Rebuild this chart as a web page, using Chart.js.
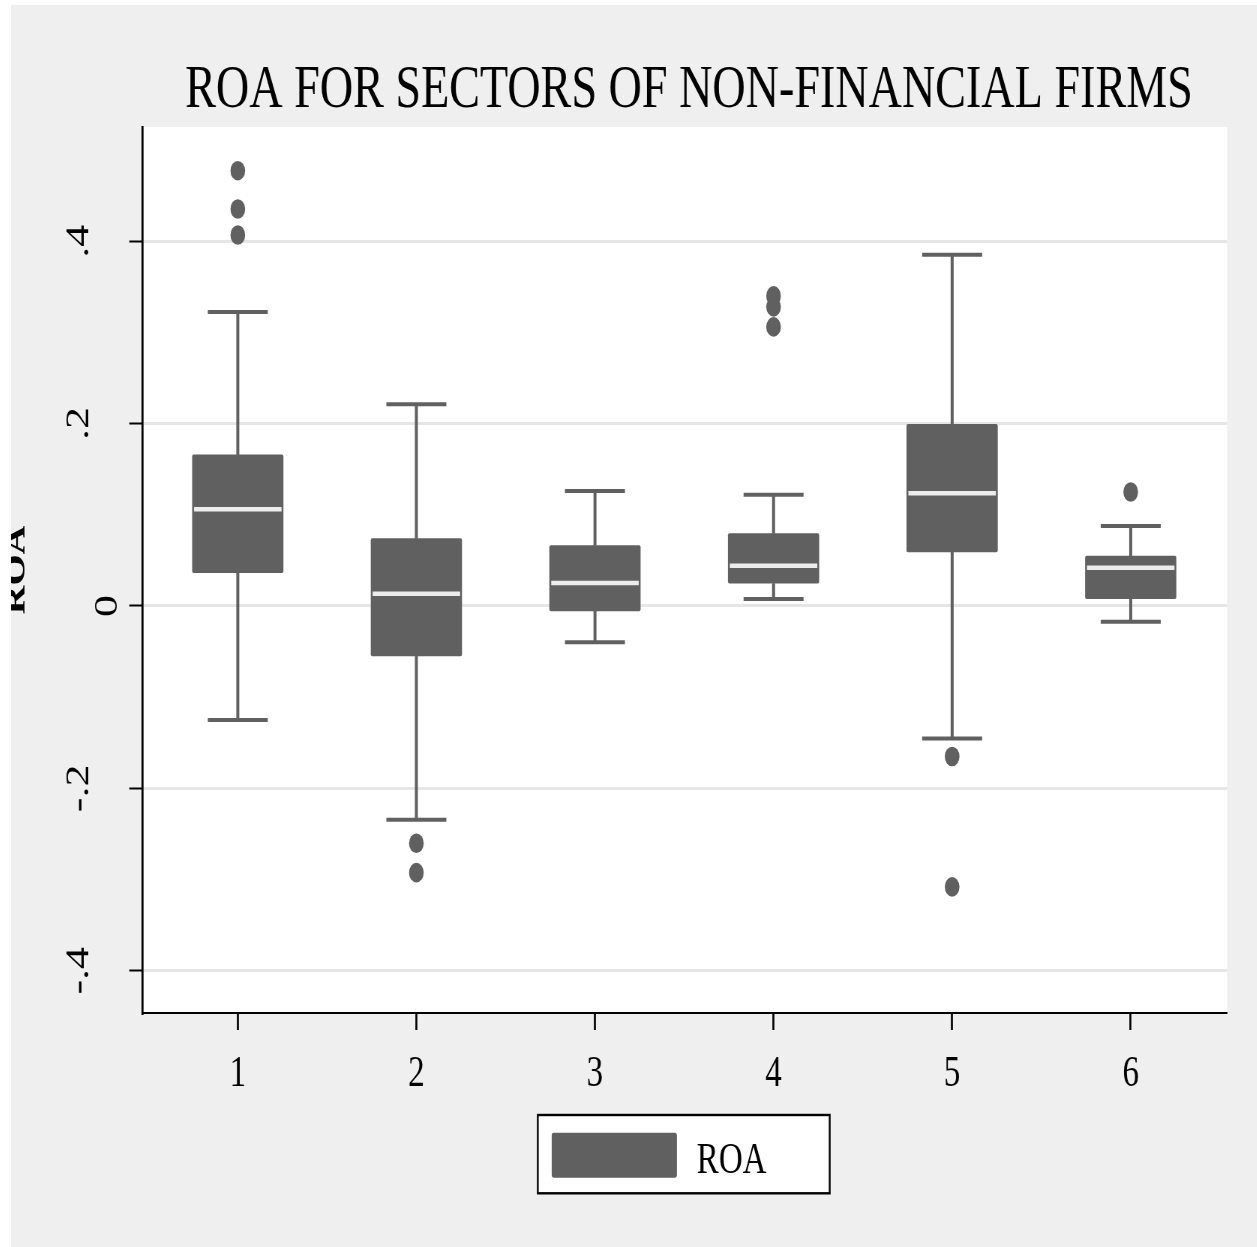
<!DOCTYPE html>
<html>
<head>
<meta charset="utf-8">
<title>ROA for sectors of non-financial firms</title>
<script src="https://cdn.jsdelivr.net/npm/chart.js@4.4.1/dist/chart.umd.min.js"></script>
<style>
  html, body { margin: 0; padding: 0; background: #ffffff; overflow: hidden; }
  #frame { position: absolute; left: 11px; top: 5px; width: 1246px; height: 1242px; background: #efefef; overflow: hidden; }
  /* the graph is laid out wide and compressed horizontally, like the exported Stata graph */
  #chart { position: absolute; left: 0; top: 0; transform: scaleX(0.75); transform-origin: 0 0; }
</style>
</head>
<body>
<div id="frame"><canvas id="chart" width="1662" height="1242"></canvas></div>
<script>
// Sector codes on the x axis
const sectors = [1, 2, 3, 4, 5, 6];

// Box-plot summary of ROA per sector
const lowerWhisker  = [-0.1250, -0.2343, -0.0398, 0.0077, -0.1453, -0.0172];
const lowerQuartile = [ 0.0365, -0.0548, -0.0055, 0.0249,  0.0594,  0.0080];
const medianROA     = [ 0.1060,  0.0135,  0.0252, 0.0442,  0.1236,  0.0420];
const upperQuartile = [ 0.1656,  0.0738,  0.0661, 0.0793,  0.1993,  0.0548];
const upperWhisker  = [ 0.3224,  0.2211,  0.1260, 0.1220,  0.3852,  0.0877];

// Outside values
const outlierSector = [1, 1, 1, 2, 2, 4, 4, 4, 5, 5, 6];
const outlierROA    = [0.4773, 0.4353, 0.4068, -0.2602, -0.2924, 0.340, 0.328, 0.306, -0.1651, -0.308, 0.125];

// Y axis ticks
const yTickValues = [-0.4, -0.2, 0, 0.2, 0.4];
const yTickLabels = ['-.4', '-.2', '0', '.2', '.4'];

const TITLE = 'ROA FOR SECTORS OF NON-FINANCIAL FIRMS';
const FONT = 'Liberation Serif';
const BOX_GREY = '#606060';
const CAP_HALF = 0.168;     // half width of whisker caps, in sector units
const MEDIAN_HALF = 0.245;  // half width of the median stroke, in sector units

const boxData = sectors.map((s, i) => ({ x: s, y: [lowerQuartile[i], upperQuartile[i]] }));

const whiskerData = [];
sectors.forEach((s, i) => {
  whiskerData.push({ x: s, y: upperQuartile[i] }, { x: s, y: upperWhisker[i] }, { x: s, y: null });
  whiskerData.push({ x: s - CAP_HALF, y: upperWhisker[i] }, { x: s + CAP_HALF, y: upperWhisker[i] }, { x: s, y: null });
  whiskerData.push({ x: s, y: lowerQuartile[i] }, { x: s, y: lowerWhisker[i] }, { x: s, y: null });
  whiskerData.push({ x: s - CAP_HALF, y: lowerWhisker[i] }, { x: s + CAP_HALF, y: lowerWhisker[i] }, { x: s, y: null });
});

const medianData = [];
sectors.forEach((s, i) => {
  medianData.push({ x: s - MEDIAN_HALF, y: medianROA[i] }, { x: s + MEDIAN_HALF, y: medianROA[i] }, { x: s, y: null });
});

const outlierData = outlierSector.map((s, i) => ({ x: s, y: outlierROA[i] }));

// White plot region
const plotBackground = {
  id: 'plotBackground',
  beforeDraw(chart) {
    const { ctx, chartArea: a } = chart;
    ctx.save();
    ctx.fillStyle = '#ffffff';
    ctx.fillRect(a.left, a.top, a.right - a.left, a.bottom - a.top);
    ctx.restore();
  }
};

// Graph title, vertical y tick labels and the framed legend
const graphText = {
  id: 'graphText',
  afterDraw(chart) {
    const { ctx } = chart;
    const yScale = chart.scales.y;
    ctx.save();

    // title
    ctx.fillStyle = '#000000';
    ctx.font = `61.5px "${FONT}"`;
    ctx.textAlign = 'center';
    ctx.textBaseline = 'alphabetic';
    ctx.fillText(TITLE, 904, 102);

    // y tick labels, reading upwards
    ctx.font = `44px "${FONT}"`;
    yScale.ticks.forEach((t) => {
      const k = yTickValues.findIndex(v => Math.abs(v - t.value) < 1e-9);
      if (k < 0) return;
      const label = yTickLabels[k];
      const baseX = label.length === 1 ? 141.3 : 102.7;
      ctx.save();
      ctx.translate(baseX, yScale.getPixelForValue(t.value));
      ctx.rotate(-Math.PI / 2);
      ctx.textAlign = 'center';
      ctx.textBaseline = 'alphabetic';
      ctx.fillText(label, 0, 0);
      ctx.restore();
    });

    // legend
    const ds = chart.data.datasets[0];
    ctx.fillStyle = '#ffffff';
    ctx.fillRect(702.4, 1110, 389.2, 78.3);
    ctx.strokeStyle = '#000000';
    ctx.lineWidth = 2.4;
    ctx.strokeRect(702.4, 1110, 389.2, 78.3);
    ctx.fillStyle = ds.backgroundColor;
    ctx.beginPath();
    ctx.roundRect(720.9, 1127.7, 167, 45, 3);
    ctx.fill();
    ctx.fillStyle = '#000000';
    ctx.font = `44px "${FONT}"`;
    ctx.textAlign = 'left';
    ctx.textBaseline = 'alphabetic';
    ctx.fillText(ds.label, 914.3, 1167.7);
    ctx.restore();
  }
};

new Chart(document.getElementById('chart'), {
  type: 'bar',
  data: {
    datasets: [
      {
        type: 'bar',
        label: 'ROA',
        data: boxData,
        backgroundColor: BOX_GREY,
        borderWidth: 0,
        borderRadius: 2,
        borderSkipped: false,
        barThickness: 121,
        order: 2
      },
      {
        type: 'line',
        label: 'whiskers',
        data: whiskerData,
        borderColor: BOX_GREY,
        borderWidth: 4,
        borderCapStyle: 'butt',
        pointRadius: 0,
        spanGaps: false,
        tension: 0,
        order: 3
      },
      {
        type: 'line',
        label: 'median',
        data: medianData,
        borderColor: '#ececec',
        borderWidth: 4.5,
        borderCapStyle: 'butt',
        pointRadius: 0,
        spanGaps: false,
        tension: 0,
        order: 1
      },
      {
        type: 'scatter',
        label: 'outside values',
        data: outlierData,
        backgroundColor: BOX_GREY,
        borderWidth: 0,
        pointRadius: 9.8,
        pointHoverRadius: 9.8,
        order: 0
      }
    ]
  },
  options: {
    responsive: false,
    devicePixelRatio: 1,
    animation: false,
    events: [],
    layout: { padding: { left: 0, right: 40.7, top: 122, bottom: 114 } },
    plugins: {
      legend: { display: false },
      tooltip: { enabled: false },
      title: { display: false }
    },
    scales: {
      x: {
        type: 'linear',
        min: 0.465,
        max: 6.539,
        offset: false,
        afterBuildTicks: (scale) => { scale.ticks = sectors.map(v => ({ value: v })); },
        afterFit: (scale) => { scale.height = 120; },
        ticks: {
          color: '#000000',
          font: { family: FONT, size: 44, lineHeight: 1.2 },
          padding: 18,
          autoSkip: false,
          maxRotation: 0,
          callback: (v) => String(v)
        },
        grid: {
          drawOnChartArea: false,
          drawTicks: true,
          tickLength: 17,
          tickWidth: 2.7,
          tickColor: '#000000',
          offset: false
        },
        border: { display: true, color: '#000000', width: 2 }
      },
      y: {
        type: 'linear',
        min: -0.4463,
        max: 0.5252,
        afterBuildTicks: (scale) => { scale.ticks = yTickValues.map(v => ({ value: v })); },
        afterFit: (scale) => { scale.width = 175; },
        ticks: { display: false },
        grid: {
          color: '#e6e6e6',
          lineWidth: 3,
          drawTicks: true,
          tickLength: 17.3,
          tickWidth: 2,
          tickColor: '#000000'
        },
        border: { display: true, color: '#000000', width: 2.7 },
        title: {
          display: true,
          text: 'ROA',
          color: '#000000',
          font: { family: FONT, size: 40, weight: 'bold', lineHeight: 1.2 },
          padding: { top: -16.6, bottom: 0 }
        }
      }
    }
  },
  plugins: [plotBackground, graphText]
});
</script>
</body>
</html>
